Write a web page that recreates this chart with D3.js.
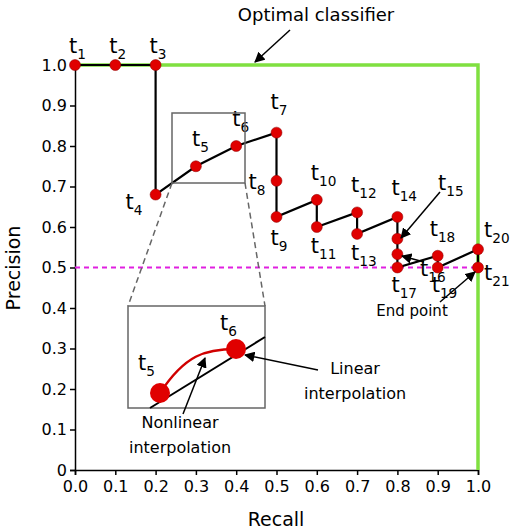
<!DOCTYPE html><html><head><script src="https://cdn.jsdelivr.net/npm/d3@7"></script>
<style>body{margin:0;background:#fff}text{font-family:Verdana,"DejaVu Sans",sans-serif}</style></head><body>
<svg id="c" width="520" height="532"></svg>
<script>
const names=["t1","t2","t3","t4","t5","t6","t7","t8","t9","t10","t11","t12","t13","t14","t15","t16","t17","t18","t19","t20","t21"];
const recall=[0,0.1,0.2,0.2,0.3,0.4,0.5,0.5,0.5,0.6,0.6,0.7,0.7,0.8,0.8,0.8,0.8,0.9,0.9,1.0,1.0];
const precision=[1,1,1,0.68,0.75,0.8,0.833,0.714,0.625,0.667,0.6,0.636,0.583,0.625,0.571,0.533,0.5,0.529,0.5,0.545,0.5];
const lab=[[-6,-12],[-6,-12],[-6,-12],[-30,14],[-4,-20],[-4,-20],[-6,-24],[-28,8],[-6,28],[-6,-20],[-6,26],[-6,-20],[-6,26],[-6,-22],null,null,[-6,24],[-8,-20],[-6,24],[6,-12],[6,12]];
const xTicks=d3.range(0,1.01,0.1), yTicks=d3.range(0,1.01,0.1);
const svg=d3.select("#c");
const x=d3.scaleLinear([0,1],[75,478]), y=d3.scaleLinear([0,1],[470,65]);
svg.append("g").attr("transform","translate(0,470)").call(d3.axisBottom(x).tickValues(xTicks).tickFormat(d3.format(".1f")).tickSize(5))
 .call(g=>g.selectAll("text").attr("font-size",16).attr("dy","0.9em"));
svg.append("g").attr("transform","translate(75,0)").call(d3.axisLeft(y).tickValues(yTicks).tickFormat(d=>d===0?"0":d3.format(".1f")(d)).tickSize(5))
 .call(g=>g.selectAll("text").attr("font-size",16));
svg.selectAll(".domain,.tick line").attr("stroke","#000").attr("stroke-width",1.5);
svg.append("text").attr("x",276).attr("y",526).attr("text-anchor","middle").attr("font-size",19).text("Recall");
svg.append("text").attr("transform","translate(20,268) rotate(-90)").attr("text-anchor","middle").attr("font-size",19).text("Precision");
const defs=svg.append("defs");
defs.append("marker").attr("id","ar").attr("viewBox","0 0 10 10").attr("refX",9).attr("refY",5).attr("markerWidth",7).attr("markerHeight",7).attr("orient","auto")
 .append("path").attr("d","M0,0L10,5L0,10z").attr("fill","#000");
svg.append("path").attr("d",d3.line()([[x(0),y(1)],[x(1),y(1)],[x(1),y(0)]])).attr("fill","none").attr("stroke","#80e040").attr("stroke-width",3.5);
svg.append("line").attr("x1",x(0)).attr("x2",x(1)).attr("y1",y(0.5)).attr("y2",y(0.5)).attr("stroke","#e020e0").attr("stroke-width",2).attr("stroke-dasharray","5,4");
const pts=recall.map((r,i)=>[x(r),y(precision[i])]);
svg.append("path").attr("d",d3.line()(pts)).attr("fill","none").attr("stroke","#000").attr("stroke-width",2.2);
svg.selectAll("circle.p").data(pts).join("circle").attr("cx",d=>d[0]).attr("cy",d=>d[1]).attr("r",5.5).attr("fill","#e00000").attr("stroke","#800").attr("stroke-width",0.5);
function tl(g,xx,yy,n,fs){const t=g.append("text").attr("x",xx).attr("y",yy).attr("font-size",fs||21);t.append("tspan").text("t");t.append("tspan").attr("font-size",(fs||21)*0.65).attr("dy",6).text(n.slice(1));}
pts.forEach((p,i)=>{if(lab[i])tl(svg,p[0]+lab[i][0],p[1]+lab[i][1],names[i]);});
tl(svg,438,190,"t15");tl(svg,420,276,"t16");
svg.append("rect").attr("x",172).attr("y",113).attr("width",73).attr("height",70).attr("fill","none").attr("stroke","#666").attr("stroke-width",1.5);
svg.append("line").attr("x1",172).attr("y1",183).attr("x2",128).attr("y2",306).attr("stroke","#666").attr("stroke-width",1.5).attr("stroke-dasharray","6,4");
svg.append("line").attr("x1",245).attr("y1",183).attr("x2",265).attr("y2",306).attr("stroke","#666").attr("stroke-width",1.5).attr("stroke-dasharray","6,4");
svg.append("rect").attr("x",128).attr("y",306).attr("width",137).attr("height",102).attr("fill","#fff").attr("stroke","#666").attr("stroke-width",1.5);
svg.append("line").attr("x1",150).attr("y1",408).attr("x2",265).attr("y2",337).attr("stroke","#000").attr("stroke-width",2);
svg.append("path").attr("d","M160,393 C185,355 205,349 236,349").attr("fill","none").attr("stroke","#d00000").attr("stroke-width",2.5);
[[160,393],[236,349]].forEach(p=>svg.append("circle").attr("cx",p[0]).attr("cy",p[1]).attr("r",10).attr("fill","#e00000"));
tl(svg,138,370,"t5");tl(svg,220,330,"t6");
svg.append("text").attr("x",316).attr("y",21).attr("text-anchor","middle").attr("font-size",18).text("Optimal classifier");
function arr(a,b,c,d){svg.append("line").attr("x1",a).attr("y1",b).attr("x2",c).attr("y2",d).attr("stroke","#000").attr("stroke-width",1.5).attr("marker-end","url(#ar)");}
arr(290,30,255,62);
svg.append("text").attr("x",355).attr("y",374).attr("text-anchor","middle").attr("font-size",16).text("Linear");
svg.append("text").attr("x",355).attr("y",399).attr("text-anchor","middle").attr("font-size",16).text("interpolation");
arr(318,370,245,355);
svg.append("text").attr("x",180).attr("y",428).attr("text-anchor","middle").attr("font-size",16).text("Nonlinear");
svg.append("text").attr("x",180).attr("y",453).attr("text-anchor","middle").attr("font-size",16).text("interpolation");
arr(183,414,205,358);
svg.append("text").attr("x",412).attr("y",316).attr("text-anchor","middle").attr("font-size",15).text("End point");
arr(440,302,475,272);
arr(440,192,401,238);
arr(424,262,402,256);
</script></body></html>
